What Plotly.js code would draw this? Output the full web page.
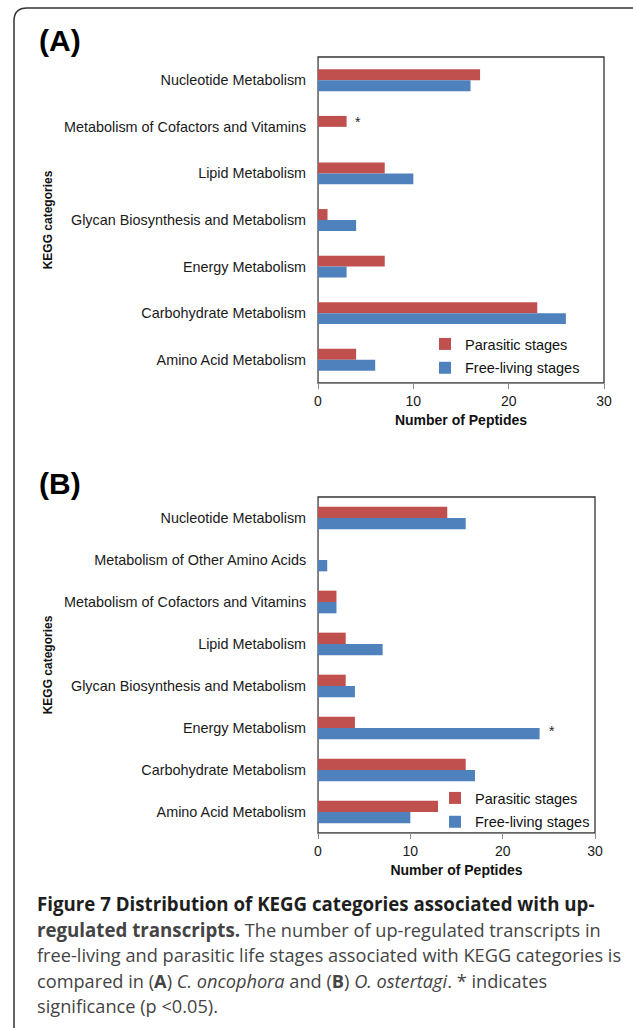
<!DOCTYPE html>
<html><head><meta charset="utf-8">
<script src="https://cdn.plot.ly/plotly-3.0.1.min.js"></script>
<style>html,body{margin:0;padding:0;background:#fff}</style>
</head><body>
<div id="chart" style="width:633px;height:1028px"></div>
<script>
// Panel A: C. oncophora
const categoriesA = ["Nucleotide Metabolism","Metabolism of Cofactors and Vitamins","Lipid Metabolism","Glycan Biosynthesis and Metabolism","Energy Metabolism","Carbohydrate Metabolism","Amino Acid Metabolism"];
const parasiticA = [17, 3, 7, 1, 7, 23, 4];
const freeLivingA = [16, 0, 10, 4, 3, 26, 6];
// Panel B: O. ostertagi
const categoriesB = ["Nucleotide Metabolism","Metabolism of Other Amino Acids","Metabolism of Cofactors and Vitamins","Lipid Metabolism","Glycan Biosynthesis and Metabolism","Energy Metabolism","Carbohydrate Metabolism","Amino Acid Metabolism"];
const parasiticB = [14, 0, 2, 3, 3, 4, 16, 13];
const freeLivingB = [16, 1, 2, 7, 4, 24, 17, 10];
const seriesNames = ["Parasitic stages", "Free-living stages"];
const xTicks = [0, 10, 20, 30];

const RED = "#C0504D", BLUE = "#4F81BD";
const ARIAL = "Liberation Sans, Arial, sans-serif";
const W = 633, H = 1028;
const px = v => v / W, py = v => 1 - v / H;

const traces = [
  {type:"bar", orientation:"h", name:seriesNames[0], y:categoriesA, x:parasiticA, xaxis:"x", yaxis:"y", legend:"legend", legendgroup:"pA",
   marker:{color:RED}, width:0.235, offset:-0.235, hoverinfo:"x+y"},
  {type:"bar", orientation:"h", name:seriesNames[1], y:categoriesA, x:freeLivingA, xaxis:"x", yaxis:"y", legend:"legend", legendgroup:"fA",
   marker:{color:BLUE}, width:0.235, offset:0, hoverinfo:"x+y"},
  {type:"bar", orientation:"h", name:seriesNames[0], y:categoriesB, x:parasiticB, xaxis:"x2", yaxis:"y2", legend:"legend2", legendgroup:"pB",
   marker:{color:RED}, width:0.27, offset:-0.27, hoverinfo:"x+y"},
  {type:"bar", orientation:"h", name:seriesNames[1], y:categoriesB, x:freeLivingB, xaxis:"x2", yaxis:"y2", legend:"legend2", legendgroup:"fB",
   marker:{color:BLUE}, width:0.27, offset:0, hoverinfo:"x+y"}
];

function xAxis(domain, anchor) {
  return {domain:domain, anchor:anchor, range:[0,30], tickvals:xTicks, ticktext:xTicks.map(String),
    showgrid:false, zeroline:false, showline:true, linecolor:"#8a8a8a", linewidth:1,
    ticks:"outside", ticklen:5, tickcolor:"#8a8a8a",
    tickfont:{family:ARIAL, size:14, color:"#1a1a1a"},
    title:{text:"<b>Number of Peptides</b>", font:{family:ARIAL, size:14, color:"#111"}, standoff:7}};
}
function yAxis(domain, anchor, cats) {
  return {domain:domain, anchor:anchor, type:"category", categoryorder:"array", categoryarray:cats,
    range:[cats.length - 0.5, -0.5], showgrid:false, zeroline:false, showline:true, linecolor:"#8a8a8a", linewidth:1,
    ticks:"", ticklabelstandoff:8, tickfont:{family:ARIAL, size:14.4, color:"#1a1a1a"},
    title:{text:"<b>KEGG categories</b>", font:{family:ARIAL, size:12, color:"#111"}, standoff:8}};
}

const captionBold = "#1e1e1e", captionReg = "#444444";
const B = s => `<span style="font-size:18.7px"><b>${s}</b></span>`;
const capLines = [
  B("Figure 7 Distribution of KEGG categories associated with up-"),
  B("regulated transcripts.") + " The number of up-regulated transcripts in",
  "free-living and parasitic life stages associated with KEGG categories is",
  "compared in (<b>A</b>) <i>C. oncophora</i> and (<b>B</b>) <i>O. ostertagi</i>. * indicates",
  "significance (p &lt;0.05)."
];
const capY = [903, 929, 955, 981, 1006];

const annotations = [
  {xref:"paper", yref:"paper", x:px(37), y:py(41), xanchor:"left", yanchor:"middle", showarrow:false,
   text:"<b>(A)</b>", font:{family:ARIAL, size:30, color:"#000"}},
  {xref:"paper", yref:"paper", x:px(37), y:py(483), xanchor:"left", yanchor:"middle", showarrow:false,
   text:"<b>(B)</b>", font:{family:ARIAL, size:30, color:"#000"}},
  {xref:"x", yref:"y", x:4.2, y:categoriesA[1], yshift:5, xanchor:"center", yanchor:"middle", showarrow:false,
   text:"*", font:{family:ARIAL, size:14, color:"#222"}},
  {xref:"x2", yref:"y2", x:25.3, y:categoriesB[5], yshift:-3, xanchor:"center", yanchor:"middle", showarrow:false,
   text:"*", font:{family:ARIAL, size:14, color:"#222"}}
];
capLines.forEach((t, i) => annotations.push({xref:"paper", yref:"paper", x:px(35), y:py(capY[i]), xanchor:"left", yanchor:"middle",
  showarrow:false, align:"left", text:t, font:{family:"Open Sans, sans-serif", size:18.2, color: i === 0 ? captionBold : captionReg}}));

// frame of the figure box (rounded corner top-left, extends off page on right/bottom)
const framePath = `M ${px(14)},${py(1040)} L ${px(14)},${py(21)} Q ${px(14)},${py(8)} ${px(27)},${py(8)} L ${px(645)},${py(8)}`;

const legendStyle = {xanchor:"left", yanchor:"top", bgcolor:"rgba(0,0,0,0)", borderwidth:0,
  font:{family:ARIAL, size:14.5, color:"#111"}, itemwidth:30, traceorder:"grouped", tracegroupgap:2};

const layout = {
  width:W, height:H, margin:{l:0, r:0, t:0, b:0}, paper_bgcolor:"#fff", plot_bgcolor:"#fff",
  barmode:"overlay", showlegend:true,
  font:{family:ARIAL, color:"#111"},
  xaxis: xAxis([px(318), px(604)], "y"),
  yaxis: yAxis([py(383), py(57)], "x", categoriesA),
  xaxis2: xAxis([px(318), px(595)], "y2"),
  yaxis2: yAxis([py(833), py(497)], "x2", categoriesB),
  legend: Object.assign({x:px(425), y:py(328)}, legendStyle),
  legend2: Object.assign({x:px(435), y:py(782)}, legendStyle),
  annotations: annotations,
  shapes: [
    {type:"rect", xref:"x domain", yref:"y domain", x0:0, x1:1, y0:0, y1:1, line:{color:"#333", width:1.3}, layer:"below"},
    {type:"rect", xref:"x2 domain", yref:"y2 domain", x0:0, x1:1, y0:0, y1:1, line:{color:"#333", width:1.3}, layer:"below"},
    {type:"path", xref:"paper", yref:"paper", path:framePath, line:{color:"#333", width:1.5}}
  ]
};

Plotly.newPlot("chart", traces, layout, {displayModeBar:false, staticPlot:true});
</script>
</body></html>
